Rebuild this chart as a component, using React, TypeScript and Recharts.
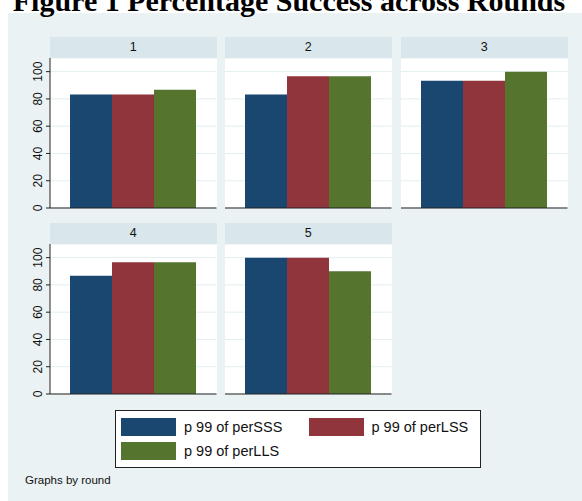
import { BarChart, Bar, XAxis, YAxis, CartesianGrid } from 'recharts';

const rounds = ['1', '2', '3', '4', '5'];
const perSSS = [83.3, 83.3, 93.3, 86.7, 100];
const perLSS = [83.3, 96.7, 93.3, 96.7, 100];
const perLLS = [86.7, 96.7, 100, 96.7, 90];
const yTicks = [0, 20, 40, 60, 80, 100];

const SERIES = [
  { key: 'sss', name: 'p 99 of perSSS', color: '#1A476F', values: perSSS },
  { key: 'lss', name: 'p 99 of perLSS', color: '#90353B', values: perLSS },
  { key: 'lls', name: 'p 99 of perLLS', color: '#55752F', values: perLLS },
];

const FONT = '"Liberation Sans", Arial, sans-serif';
const BG = '#EAF2F3';
const STRIP = '#D9E6EB';
const GRID = '#E3EDEF';

const COL_X = [50, 225, 401];
const ROW_Y = [37.3, 223.3];
const PLOT_W = 166.5;
const PLOT_H = 150;
const STRIP_H = 20.4;
const AXIS_W = 40;
const X_H = 10;

function RotatedTick(props: any) {
  const { x, y, payload } = props;
  return (
    <text
      x={x - 2}
      y={y}
      transform={`rotate(-90, ${x - 2}, ${y})`}
      textAnchor="middle"
      fontSize={12}
      fontFamily={FONT}
      fill="#111"
    >
      {payload.value}
    </text>
  );
}

function Panel({ index }: { index: number }) {
  const col = index % 3;
  const row = Math.floor(index / 3);
  const left = COL_X[col];
  const top = ROW_Y[row];
  const showAxis = col === 0;
  const data = [
    {
      round: rounds[index],
      sss: perSSS[index],
      lss: perLSS[index],
      lls: perLLS[index],
    },
  ];
  const chartLeft = showAxis ? left - AXIS_W : left;
  const chartW = showAxis ? PLOT_W + AXIS_W : PLOT_W;

  return (
    <>
      <div
        style={{
          position: 'absolute',
          left,
          top,
          width: PLOT_W,
          height: STRIP_H,
          background: STRIP,
          textAlign: 'center',
          lineHeight: `${STRIP_H}px`,
          fontFamily: FONT,
          fontSize: 12.5,
          color: '#111',
        }}
      >
        {rounds[index]}
      </div>
      <div
        style={{
          position: 'absolute',
          left,
          top: top + STRIP_H,
          width: PLOT_W,
          height: PLOT_H,
          background: '#fff',
        }}
      />
      <div style={{ position: 'absolute', left: chartLeft, top: top + STRIP_H }}>
        <BarChart
          width={chartW}
          height={PLOT_H + X_H}
          data={data}
          margin={{ top: 0, right: 0, bottom: 0, left: 0 }}
          barCategoryGap={20}
          barGap={0}
        >
          <CartesianGrid vertical={false} stroke={GRID} strokeWidth={1} />
          <XAxis
            dataKey="round"
            tick={false}
            tickLine={false}
            height={X_H}
            axisLine={{ stroke: '#222', strokeWidth: 1.2 }}
          />
          <YAxis
            hide={!showAxis}
            width={AXIS_W}
            domain={[0, 110]}
            ticks={yTicks}
            interval={0}
            tickSize={4}
            tickMargin={2}
            tick={<RotatedTick />}
            tickLine={{ stroke: '#222' }}
            axisLine={{ stroke: '#222' }}
          />
          {SERIES.map(s => (
            <Bar
              key={s.key}
              dataKey={s.key}
              fill={s.color}
              isAnimationActive={false}
            />
          ))}
        </BarChart>
      </div>
    </>
  );
}

export default function App() {
  return (
    <div
      style={{
        position: 'absolute',
        left: 0,
        top: 0,
        width: 582,
        height: 501,
        background: '#fff',
        overflow: 'hidden',
      }}
    >
      <div
        style={{
          position: 'absolute',
          left: 8,
          top: 13,
          width: 574,
          height: 488,
          background: BG,
        }}
      />
      <svg
        width={582}
        height={501}
        style={{ position: 'absolute', left: 0, top: 0, pointerEvents: 'none' }}
      >
        <text
          x={289}
          y={11}
          textAnchor="middle"
          fontFamily='"Liberation Serif", "Times New Roman", serif'
          fontWeight="bold"
          fontSize={30}
          fill="#000"
        >
          Figure 1 Percentage Success across Rounds
        </text>
        <text x={25} y={484} fontFamily={FONT} fontSize={11.5} fill="#111">
          Graphs by round
        </text>
      </svg>
      {rounds.map((r, i) => (
        <Panel key={r} index={i} />
      ))}
      <div
        style={{
          position: 'absolute',
          left: 115,
          top: 410,
          width: 364,
          height: 56,
          background: '#fff',
          border: '1px solid #222',
        }}
      >
        {SERIES.map((s, i) => {
          const c = i % 2;
          const r = Math.floor(i / 2);
          const sx = c === 0 ? 5 : 192.5;
          const sy = r === 0 ? 6.7 : 30.7;
          return (
            <div key={s.key}>
              <div
                style={{
                  position: 'absolute',
                  left: sx,
                  top: sy,
                  width: 55,
                  height: 18.5,
                  background: s.color,
                }}
              />
              <div
                style={{
                  position: 'absolute',
                  left: sx + 63,
                  top: sy,
                  height: 18.5,
                  lineHeight: '18.5px',
                  fontFamily: FONT,
                  fontSize: 14.5,
                  color: '#111',
                  whiteSpace: 'nowrap',
                }}
              >
                {s.name}
              </div>
            </div>
          );
        })}
      </div>
    </div>
  );
}
